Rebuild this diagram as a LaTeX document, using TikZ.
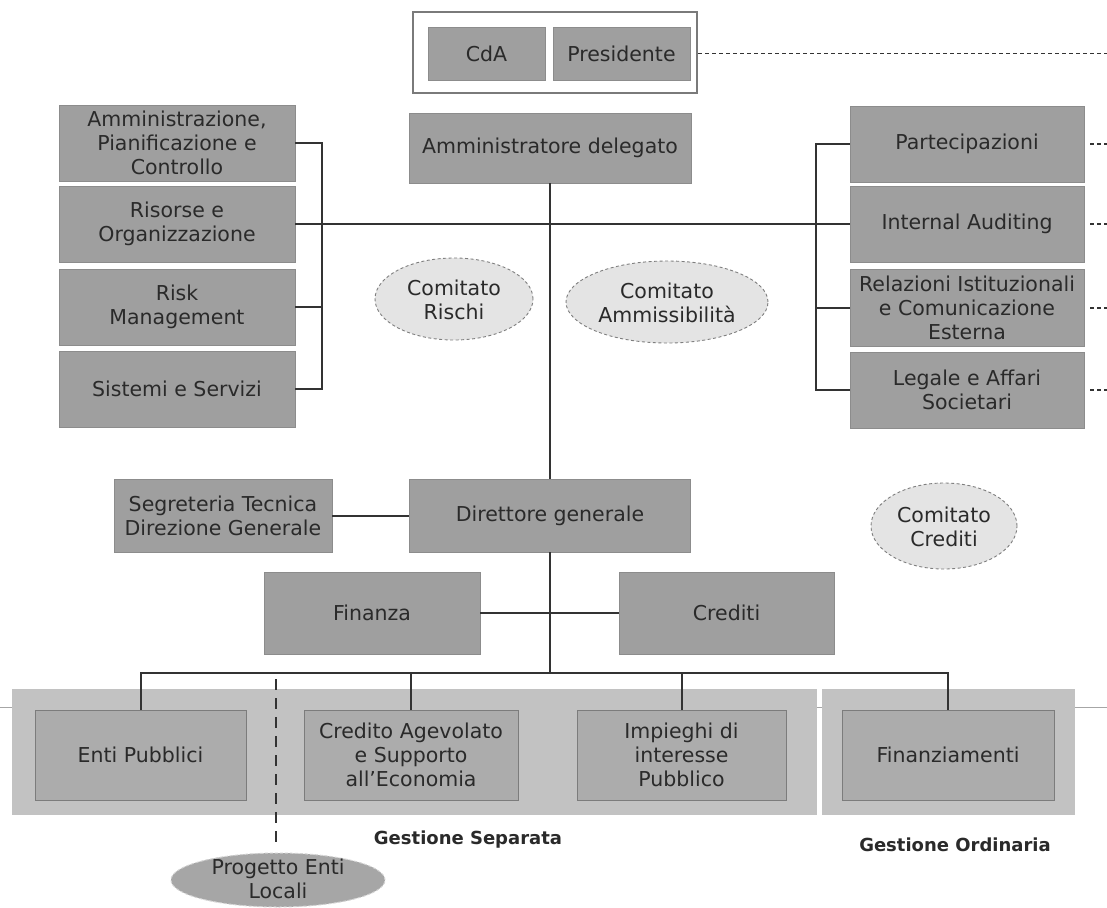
\documentclass[tikz,border=0pt]{standalone}
\usepackage{fontspec}
\setmainfont{DejaVu Sans}
\usetikzlibrary{shapes.geometric}
\definecolor{boxgray}{HTML}{9F9F9F}
\definecolor{boxedge}{HTML}{8C8C8C}
\definecolor{txt}{HTML}{2A2A2A}
\definecolor{linec}{HTML}{333333}
\definecolor{comfill}{HTML}{E4E4E4}
\definecolor{comedge}{HTML}{7E7E7E}
\definecolor{bandfill}{HTML}{C2C2C2}
\definecolor{innerfill}{HTML}{ACACAC}
\definecolor{inneredge}{HTML}{7C7C7C}
\definecolor{pelfill}{HTML}{A6A6A6}
\definecolor{peledge}{HTML}{D2D2D2}
\definecolor{frame}{HTML}{7A7A7A}
\tikzset{
  box/.style={rectangle, fill=boxgray, draw=boxedge, line width=0.6pt, text=txt, align=center, inner sep=1pt, font={\fontsize{20.5}{24}\selectfont}},
  innerbox/.style={rectangle, fill=innerfill, draw=inneredge, line width=0.8pt, text=txt, align=center, inner sep=1pt, font={\fontsize{20.5}{24}\selectfont}},
  band/.style={rectangle, fill=bandfill, draw=none},
  etext/.style={text=txt, align=center, inner sep=0pt, font={\fontsize{20.5}{24}\selectfont}},
  comstyle/.style={fill=comfill, draw=comedge, line width=0.9pt, dash pattern=on 3pt off 2.5pt},
  pelstyle/.style={fill=pelfill, draw=peledge, line width=1pt, dash pattern=on 3pt off 2pt},
  conn/.style={draw=linec, line width=2pt},
  dline/.style={draw=linec, line width=1.2pt, dash pattern=on 4pt off 3pt},
  thickdash/.style={draw=linec, line width=2.6pt, dash pattern=on 11pt off 8pt},
  lbl/.style={text=txt, inner sep=0pt, font={\fontsize{18}{21}\selectfont\bfseries}},
  frm/.style={rectangle, draw=frame, line width=1.2pt, fill=white}
}
\begin{document}
\begin{tikzpicture}[x=1pt,y=-1pt]
\fill[white] (0,0) rectangle (1107,907);
\useasboundingbox (0,0) rectangle (1107,907);

% top board
\node[frm, minimum width=284pt, minimum height=81pt] (board) at (555,52.5) {};
\node[box, minimum width=117pt, minimum height=53pt] (cda) at (486.5,53.5) {CdA};
\node[box, minimum width=137pt, minimum height=53pt] (pres) at (621.5,53.5) {Presidente};
\coordinate (re) at (1107,0);
\draw[dline] (pres.east) ++(8pt,0) -- (pres.east -| re);

% AD
\node[box, minimum width=282pt, minimum height=70pt] (ad) at (550,148) {Amministratore delegato};

% left column
\node[box, minimum width=236pt, minimum height=76pt] (amm) at (177,143) {Amministrazione,\\Pianificazione e\\Controllo};
\node[box, minimum width=236pt, minimum height=76pt] (ris) at (177,224) {Risorse e\\Organizzazione};
\node[box, minimum width=236pt, minimum height=76pt] (risk) at (177,307) {Risk\\Management};
\node[box, minimum width=236pt, minimum height=76pt] (sis) at (177,389) {Sistemi e Servizi};

% right column
\node[box, minimum width=234pt, minimum height=76pt] (part) at (967,144) {Partecipazioni};
\node[box, minimum width=234pt, minimum height=76pt] (aud) at (967,224) {Internal Auditing};
\node[box, minimum width=234pt, minimum height=77pt] (rel) at (967,308) {Relazioni Istituzionali\\e Comunicazione\\Esterna};
\node[box, minimum width=234pt, minimum height=76pt] (leg) at (967,390) {Legale e Affari\\Societari};

\coordinate (lb) at (322,224);
\coordinate (rb) at (816,224);

% brackets
\draw[conn] (amm.east) -| (lb) |- (sis.east);
\draw[conn] (risk.east) -- (risk.east -| lb);
\draw[conn] (part.west) -| (rb) |- (leg.west);
\draw[conn] (rel.west) -- (rel.west -| rb);
\draw[conn] (ris.east) -- (aud.west);

% right dashed stubs
\foreach \n in {part,aud,rel,leg}{\draw[dline] (\n.east) ++(6pt,0) -- (\n.east -| re);}

% committees
\draw[comstyle] (454,299) ellipse [x radius=79pt, y radius=41pt];
\node[etext] (crischi) at (454,300) {Comitato\\Rischi};
\draw[comstyle] (667,302) ellipse [x radius=101pt, y radius=41pt];
\node[etext] (camm) at (667,303) {Comitato\\Ammissibilità};
\draw[comstyle] (944,526) ellipse [x radius=73pt, y radius=43pt];
\node[etext] (ccred) at (944,527) {Comitato\\Crediti};

% DG level
\node[box, minimum width=281pt, minimum height=73pt] (dg) at (550,515.5) {Direttore generale};
\node[box, minimum width=218pt, minimum height=73pt] (seg) at (223,515.5) {Segreteria Tecnica\\Direzione Generale};
\node[box, minimum width=216pt, minimum height=82pt] (fin) at (372,613) {Finanza};
\node[box, minimum width=215pt, minimum height=82pt] (cred) at (726.5,613) {Crediti};

\draw[conn] (ad.south) -- (dg.north);
\draw[conn] (seg.east) -- (dg.west);
\coordinate (bus) at (550,673);
\draw[conn] (dg.south) -- (bus);
\draw[conn] (fin.east) -- (cred.west);

% scan line
\draw[black!35, line width=0.8pt] (0,707) -- (1107,707);

% bands
\node[band, minimum width=805pt, minimum height=126pt] (sep) at (414.5,752) {};
\node[band, minimum width=253pt, minimum height=126pt] (ord) at (948.5,752) {};

% inner boxes
\node[innerbox, minimum width=211pt, minimum height=90pt] (enti) at (140.5,755) {Enti Pubblici};
\node[innerbox, minimum width=214pt, minimum height=90pt] (credag) at (411,755) {Credito Agevolato\\e Supporto\\all’Economia};
\node[innerbox, minimum width=209pt, minimum height=90pt] (imp) at (681.5,755) {Impieghi di\\interesse\\Pubblico};
\node[innerbox, minimum width=212pt, minimum height=90pt] (finz) at (948,755) {Finanziamenti};

\draw[conn] (enti.north) -- (enti.north |- bus) -- (finz.north |- bus) -- (finz.north);
\draw[conn] (credag.north) -- (credag.north |- bus);
\draw[conn] (imp.north) -- (imp.north |- bus);

% labels
\node[lbl] (gs) at (468,840) {Gestione Separata};
\node[lbl] (go) at (955,845) {Gestione Ordinaria};

% progetto enti locali
\draw[pelstyle] (278,880) ellipse [x radius=107pt, y radius=27pt];
\node[etext] (pel) at (278,879) {Progetto Enti\\Locali};
\coordinate (dtop) at (276,679);
\coordinate (dbot) at (276,842);
\draw[thickdash] (dtop) -- (dbot);
\end{tikzpicture}
\end{document}
